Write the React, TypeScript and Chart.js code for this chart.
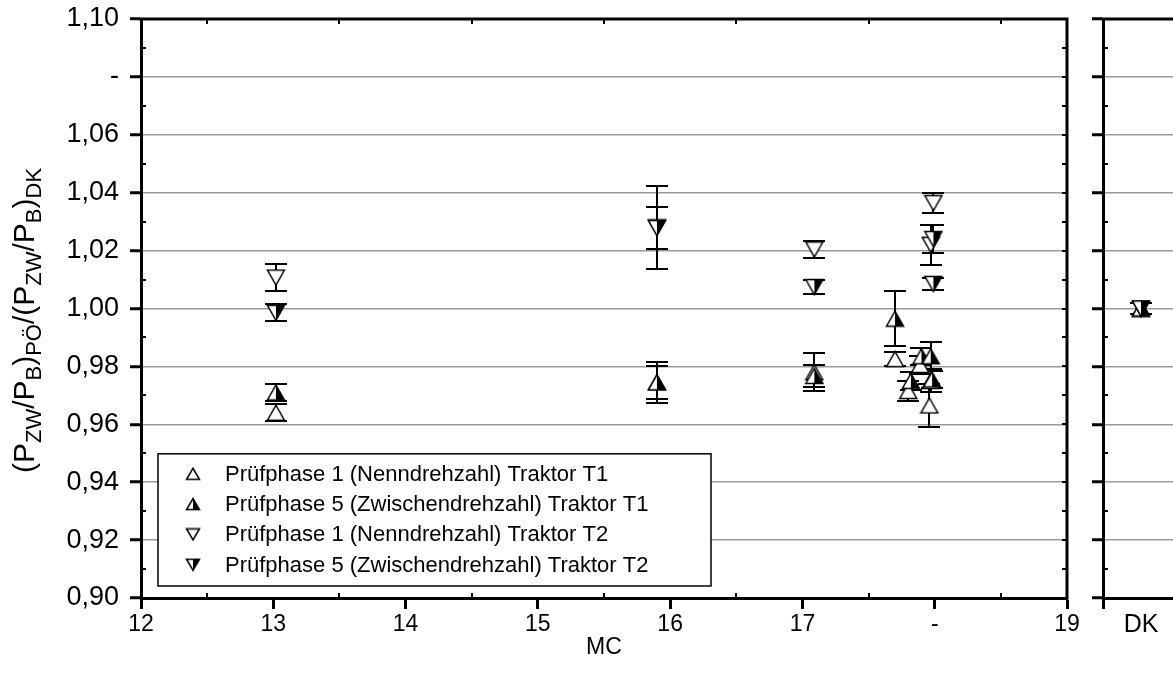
import React, { useEffect, useRef } from 'react';
import { Chart, registerables } from 'chart.js';
Chart.register(...registerables);

const FONT = '"Liberation Sans", Arial, Helvetica, sans-serif';

// ---------- data ----------
const seriesLabels = [
  'Prüfphase 1 (Nenndrehzahl) Traktor T1',
  'Prüfphase 5 (Zwischendrehzahl) Traktor T1',
  'Prüfphase 1 (Nenndrehzahl) Traktor T2',
  'Prüfphase 5 (Zwischendrehzahl) Traktor T2',
];

// Prüfphase 1, Traktor T1 (open up triangle)
const t1p1X = [13.02, 15.9, 17.09, 17.7, 17.8, 17.89, 17.96, 17.97];
const t1p1Y = [0.964, 0.9745, 0.978, 0.9825, 0.9715, 0.9805, 0.9665, 0.975];
const t1p1Err = [0.003, 0.007, 0.0065, 0.0025, 0.0035, 0.003, 0.0075, 0.004];

// Prüfphase 5, Traktor T1 (half filled up triangle)
const t1p5X = [13.02, 15.9, 17.09, 17.7, 17.82, 17.9, 17.97, 17.98];
const t1p5Y = [0.971, 0.9745, 0.9767, 0.9965, 0.975, 0.9835, 0.9835, 0.9755];
const t1p5Err = [0.003, 0.0058, 0.0037, 0.0095, 0.003, 0.003, 0.005, 0.003];

// Prüfphase 1, Traktor T2 (open down triangle)
const t2p1X = [13.02, 15.9, 17.09, 17.97, 17.99];
const t2p1Y = [1.0107, 1.028, 1.0204, 1.022, 1.0364];
const t2p1Err = [0.0045, 0.0142, 0.003, 0.007, 0.0035];

// Prüfphase 5, Traktor T2 (half filled down triangle)
const t2p5X = [13.02, 15.9, 17.09, 17.99, 17.99];
const t2p5Y = [0.9985, 1.0278, 1.0074, 1.024, 1.0085];
const t2p5Err = [0.0029, 0.0071, 0.0025, 0.005, 0.002];

// reference panel "DK"
const dkValue = [1.0, 1.0, 1.0, 1.0];
const dkErr = [0.002, 0.002, 0.002, 0.002];

const xTickValues = [12, 13, 14, 15, 16, 17, 18, 19];
const xTickLabels = ['12', '13', '14', '15', '16', '17', '-', '19'];
const yTickValues = [0.9, 0.92, 0.94, 0.96, 0.98, 1.0, 1.02, 1.04, 1.06, 1.08, 1.1];
const yTickLabels = ['0,90', '0,92', '0,94', '0,96', '0,98', '1,00', '1,02', '1,04', '1,06', '-', '1,10'];
const dkTickValues = [0, 1];
const dkTickLabels = ['', 'DK'];

const xTitle = 'MC';
const yTitleParts: [string, boolean][] = [
  ['(P', false], ['ZW', true], ['/P', false], ['B', true], [')', false], ['PÖ', true],
  ['/(P', false], ['ZW', true], ['/P', false], ['B', true], [')', false], ['DK', true],
];

// ---------- helpers ----------
function makeMarker(dir: 'up' | 'down', half: boolean, w: number, h: number) {
  const c = document.createElement('canvas');
  c.width = w + 3;
  c.height = h + 3;
  const g = c.getContext('2d')!;
  const L = 1.5, R = w + 1.5, T = 1.5, B = h + 1.5, M = (w + 3) / 2;
  const pts = dir === 'up' ? [[M, T], [R, B], [L, B]] : [[L, T], [R, T], [M, B]];
  g.beginPath();
  pts.forEach(([x, y], i) => (i ? g.lineTo(x, y) : g.moveTo(x, y)));
  g.closePath();
  g.fillStyle = '#fff';
  g.fill();
  if (half) {
    g.beginPath();
    if (dir === 'up') { g.moveTo(M, T); g.lineTo(R, B); g.lineTo(M, B); }
    else { g.moveTo(M, T); g.lineTo(R, T); g.lineTo(M, B); }
    g.closePath();
    g.fillStyle = '#000';
    g.fill();
  }
  g.beginPath();
  pts.forEach(([x, y], i) => (i ? g.lineTo(x, y) : g.moveTo(x, y)));
  g.closePath();
  g.lineWidth = 1.5;
  g.strokeStyle = '#000';
  g.lineJoin = 'miter';
  g.stroke();
  return c;
}

function mids(vals: number[]) {
  const out: number[] = [];
  for (let i = 0; i < vals.length - 1; i++) out.push((vals[i] + vals[i + 1]) / 2);
  return out;
}

const errorBarPlugin = {
  id: 'errorBars',
  beforeDatasetsDraw(chart: any) {
    const ctx = chart.ctx;
    const ys = chart.scales.y;
    ctx.save();
    ctx.strokeStyle = '#000';
    ctx.lineWidth = 2;
    chart.data.datasets.forEach((ds: any, di: number) => {
      const meta = chart.getDatasetMeta(di);
      const errs: number[] = ds.errors || [];
      meta.data.forEach((pt: any, i: number) => {
        const v = ds.data[i].y;
        const e = errs[i];
        if (!e) return;
        const top = Math.round(ys.getPixelForValue(v + e));
        const bot = Math.round(ys.getPixelForValue(v - e));
        const x = Math.round(pt.x);
        ctx.beginPath();
        ctx.moveTo(x, top);
        ctx.lineTo(x, bot);
        ctx.moveTo(x - 11, top);
        ctx.lineTo(x + 11, top);
        ctx.moveTo(x - 11, bot);
        ctx.lineTo(x + 11, bot);
        ctx.stroke();
      });
    });
    ctx.restore();
  },
};

function makeFramePlugin(xMinor: number[], yMinorLeft: number[], yMinorRight: number[]) {
  return {
    id: 'frame',
    afterDraw(chart: any) {
      const { ctx, chartArea: a } = chart;
      const xs = chart.scales.x;
      const ys = chart.scales.y;
      ctx.save();
      ctx.strokeStyle = '#000';
      ctx.lineCap = 'square';
      ctx.lineWidth = 3;
      ctx.beginPath();
      ctx.moveTo(a.left, a.top);
      ctx.lineTo(a.right, a.top);
      ctx.lineTo(a.right, a.bottom);
      ctx.stroke();
      ctx.lineCap = 'butt';
      ctx.lineWidth = 2;
      ctx.beginPath();
      yMinorLeft.forEach((v) => {
        const y = Math.round(ys.getPixelForValue(v));
        ctx.moveTo(a.left, y);
        ctx.lineTo(a.left + 5, y);
      });
      yMinorRight.forEach((v) => {
        const y = Math.round(ys.getPixelForValue(v));
        ctx.moveTo(a.right, y);
        ctx.lineTo(a.right - 5, y);
      });
      xMinor.forEach((v) => {
        const x = Math.round(xs.getPixelForValue(v));
        ctx.moveTo(x, a.bottom);
        ctx.lineTo(x, a.bottom - 5);
        ctx.moveTo(x, a.top);
        ctx.lineTo(x, a.top + 5);
      });
      ctx.stroke();
      ctx.restore();
    },
  };
}

const yTitlePlugin = {
  id: 'yTitle',
  afterDraw(chart: any) {
    const { ctx, chartArea: a } = chart;
    const main = `30px ${FONT}`;
    const sub = `22px ${FONT}`;
    ctx.save();
    ctx.fillStyle = '#000';
    ctx.textBaseline = 'alphabetic';
    let total = 0;
    const widths = yTitleParts.map(([t, s]) => {
      ctx.font = s ? sub : main;
      const w = ctx.measureText(t).width;
      total += w;
      return w;
    });
    ctx.translate(23, (a.top + a.bottom) / 2 + 12);
    ctx.rotate(-Math.PI / 2);
    let x = -total / 2;
    yTitleParts.forEach(([t, s], i) => {
      ctx.font = s ? sub : main;
      ctx.fillText(t, x, s ? 18 : 11);
      x += widths[i];
    });
    ctx.restore();
  },
};

function makeLegendPlugin(markers: HTMLCanvasElement[]) {
  return {
    id: 'boxLegend',
    afterDraw(chart: any) {
      const { ctx, chartArea: a } = chart;
      const left = a.left + 17;
      const bottom = a.bottom - 12;
      const rowH = 30.3;
      const h = rowH * 4 + 11;
      const top = bottom - h;
      const w = 553;
      ctx.save();
      ctx.fillStyle = '#fff';
      ctx.fillRect(left, top, w, h);
      ctx.strokeStyle = '#000';
      ctx.lineWidth = 1.5;
      ctx.strokeRect(left, top, w, h);
      ctx.font = `22px ${FONT}`;
      ctx.fillStyle = '#000';
      ctx.textBaseline = 'middle';
      chart.data.datasets.forEach((ds: any, i: number) => {
        const cy = top + 20 + i * rowH;
        const m = markers[i];
        ctx.drawImage(m, left + 35 - m.width / 2, cy - m.height / 2);
        ctx.fillText(ds.label, left + 67, cy + 1);
      });
      ctx.restore();
    },
  };
}

function pts(xs: any[], ys: number[]) {
  return xs.map((x, i) => ({ x, y: ys[i] }));
}

function yScale(showLabels: boolean, width: number) {
  return {
    type: 'linear',
    min: 0.9,
    max: 1.1,
    afterBuildTicks: (s: any) => { s.ticks = yTickValues.map((v) => ({ value: v })); },
    afterFit: (s: any) => { s.width = width; s.paddingTop = 0; s.paddingBottom = 0; },
    ticks: {
      display: showLabels,
      callback: (_v: any, i: number) => yTickLabels[i],
      font: { family: FONT, size: 27 },
      color: '#000',
      padding: 11,
    },
    grid: {
      color: (c: any) => (c.index === 0 || c.index === yTickValues.length - 1 ? 'rgba(0,0,0,0)' : '#9a9a9a'),
      lineWidth: 1.5,
      drawTicks: true,
      tickLength: 11,
      tickWidth: 3,
      tickColor: '#000',
    },
    border: { display: true, color: '#000', width: 3 },
  };
}

export default function App() {
  const mainRef = useRef<HTMLCanvasElement>(null);
  const dkRef = useRef<HTMLCanvasElement>(null);

  useEffect(() => {
    const big = [
      makeMarker('up', false, 17, 15),
      makeMarker('up', true, 17, 15),
      makeMarker('down', false, 17, 15),
      makeMarker('down', true, 17, 15),
    ];
    const small = [
      makeMarker('up', false, 13, 11),
      makeMarker('up', true, 13, 11),
      makeMarker('down', false, 13, 11),
      makeMarker('down', true, 13, 11),
    ];
    const mainSeries = [
      { x: t1p1X, y: t1p1Y, e: t1p1Err },
      { x: t1p5X, y: t1p5Y, e: t1p5Err },
      { x: t2p1X, y: t2p1Y, e: t2p1Err },
      { x: t2p5X, y: t2p5Y, e: t2p5Err },
    ];
    const mainChart = new Chart(mainRef.current!, {
      type: 'scatter',
      data: {
        datasets: mainSeries.map((s, i) => ({
          label: seriesLabels[i],
          data: pts(s.x, s.y),
          errors: s.e,
          pointStyle: big[i],
          pointRadius: 8,
          showLine: false,
          order: mainSeries.length - i,
        })) as any,
      },
      options: {
        animation: false,
        responsive: false,
        maintainAspectRatio: false,
        layout: { padding: { top: 19, right: 106, left: 0, bottom: 0 } },
        plugins: { legend: { display: false }, tooltip: { enabled: false } },
        scales: {
          x: {
            type: 'linear',
            min: 12,
            max: 19,
            afterBuildTicks: (s: any) => { s.ticks = xTickValues.map((v) => ({ value: v })); },
            afterFit: (s: any) => { s.height = 88; s.paddingLeft = 0; s.paddingRight = 0; },
            ticks: {
              callback: (_v: any, i: number) => xTickLabels[i],
              font: { family: FONT, size: 23 },
              color: '#000',
              maxRotation: 0,
              autoSkip: false,
              padding: 2,
            },
            grid: { drawOnChartArea: false, drawTicks: true, tickLength: 11, tickWidth: 3, tickColor: '#000' },
            border: { display: true, color: '#000', width: 3 },
            title: {
              display: true,
              text: xTitle,
              font: { family: FONT, size: 23 },
              color: '#000',
              padding: { top: 0, bottom: 25 },
            },
          } as any,
          y: yScale(true, 141) as any,
        },
      },
      plugins: [
        errorBarPlugin,
        makeFramePlugin(mids(xTickValues), mids(yTickValues), [...yTickValues.slice(1, -1), ...mids(yTickValues)]),
        yTitlePlugin,
        makeLegendPlugin(small),
      ],
    });

    const dkChart = new Chart(dkRef.current!, {
      type: 'scatter',
      data: {
        datasets: seriesLabels.map((lab, i) => ({
          label: lab,
          data: [{ x: 1, y: dkValue[i] }],
          errors: [dkErr[i]],
          pointStyle: big[i],
          pointRadius: 8,
          showLine: false,
          order: seriesLabels.length - i,
        })) as any,
      },
      options: {
        animation: false,
        responsive: false,
        maintainAspectRatio: false,
        layout: { padding: { top: 19, right: 104, left: 0, bottom: 0 } },
        plugins: { legend: { display: false }, tooltip: { enabled: false } },
        scales: {
          x: {
            type: 'linear',
            min: 0,
            max: 2,
            afterBuildTicks: (s: any) => { s.ticks = dkTickValues.map((v) => ({ value: v })); },
            afterFit: (s: any) => { s.height = 88; s.paddingLeft = 0; s.paddingRight = 0; },
            ticks: {
              callback: (_v: any, i: number) => dkTickLabels[i],
              font: { family: FONT, size: 25 },
              color: '#000',
              maxRotation: 0,
              autoSkip: false,
              padding: 1,
            },
            grid: {
              drawOnChartArea: false,
              drawTicks: true,
              tickLength: 11,
              tickWidth: 3,
              tickColor: (c: any) => (c.index === 0 ? '#000' : 'rgba(0,0,0,0)'),
            },
            border: { display: true, color: '#000', width: 3 },
          } as any,
          y: yScale(false, 20) as any,
        },
      },
      plugins: [errorBarPlugin, makeFramePlugin([], mids(yTickValues), [])],
    });

    return () => {
      mainChart.destroy();
      dkChart.destroy();
    };
  }, []);

  return (
    <div
      style={{
        position: 'fixed',
        left: 0,
        top: 0,
        width: 1173,
        height: 686,
        overflow: 'hidden',
        background: '#fff',
      }}
    >
      <canvas ref={mainRef} width={1173} height={686} style={{ position: 'absolute', left: 0, top: 0 }} />
      <canvas ref={dkRef} width={200} height={686} style={{ position: 'absolute', left: 1083, top: 0 }} />
    </div>
  );
}
